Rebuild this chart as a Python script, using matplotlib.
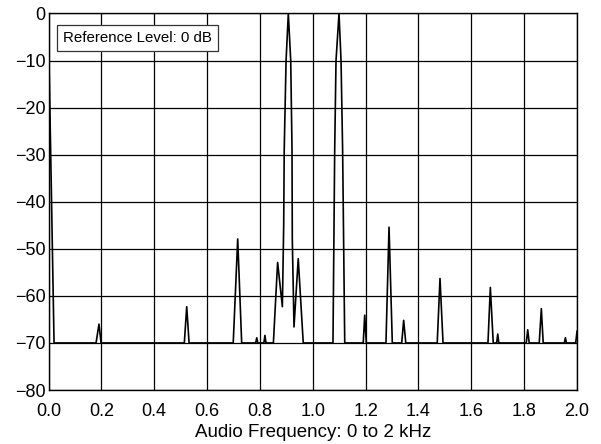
import matplotlib
matplotlib.use("Agg")
import matplotlib.pyplot as plt

plt.rcParams['font.family'] = ['Liberation Sans', 'DejaVu Sans']

# spectrum trace vertices, frequency in kHz and level in dB
freq_khz = [0.000, 0.010, 0.021,
            0.180, 0.191, 0.199,
            0.514, 0.523, 0.532,
            0.699, 0.716, 0.731,
            0.784, 0.788, 0.792, 0.815, 0.819, 0.823,
            0.851, 0.867, 0.885, 0.890, 0.892, 0.899, 0.9075, 0.9166, 0.9215, 0.9226,
            0.929, 0.945, 0.964,
            1.0765, 1.083, 1.088, 1.0993, 1.107, 1.113, 1.121,
            1.191, 1.1966, 1.2027,
            1.277, 1.2886, 1.301,
            1.3366, 1.344, 1.352,
            1.471, 1.4815, 1.493,
            1.663, 1.672, 1.683, 1.696, 1.700, 1.704,
            1.808, 1.8134, 1.819,
            1.857, 1.865, 1.872,
            1.952, 1.956, 1.960,
            1.995, 2.000]
level_db = [-4.0, -35.0, -70.0,
            -70.0, -66.0, -70.0,
            -70.0, -62.3, -70.0,
            -70.0, -47.9, -70.0,
            -70.0, -68.9, -70.0, -70.0, -68.4, -70.0,
            -70.0, -52.9, -62.3, -45.0, -29.0, -10.0, 0.0, -10.0, -29.0, -48.0,
            -66.6, -52.1, -70.0,
            -70.0, -29.0, -10.0, 0.0, -10.0, -29.0, -70.0,
            -70.0, -64.1, -70.0,
            -70.0, -45.4, -70.0,
            -70.0, -65.2, -70.0,
            -70.0, -56.3, -70.0,
            -70.0, -58.2, -70.0, -70.0, -68.1, -70.0,
            -70.0, -67.2, -70.0,
            -70.0, -62.7, -70.0,
            -70.0, -68.9, -70.0,
            -70.0, -67.5]

x_ticks = [0.0, 0.2, 0.4, 0.6, 0.8, 1.0, 1.2, 1.4, 1.6, 1.8, 2.0]
y_ticks = [0, -10, -20, -30, -40, -50, -60, -70, -80]

fig = plt.figure(figsize=(6.01, 4.44), dpi=100)
ax = fig.add_axes([0.0807, 0.1216, 0.8794, 0.8480])

ax.plot(freq_khz, level_db, color='black', lw=1.2, zorder=3)

ax.set_xlim(0, 2.0)
ax.set_ylim(-80, 0)
ax.set_xticks(x_ticks)
ax.set_xticklabels(['%.1f' % t for t in x_ticks])
ax.set_yticks(y_ticks)
ax.set_yticklabels([('\u2212%d' % -t) if t < 0 else '0' for t in y_ticks])
ax.tick_params(axis='both', length=0, labelsize=13)
ax.tick_params(axis='x', pad=9)
ax.tick_params(axis='y', pad=2)
ax.grid(True, color='black', lw=0.9)
for s in ax.spines.values():
    s.set_linewidth(1.0)

ax.set_xlabel('Audio Frequency: 0 to 2 kHz', fontsize=13.5, labelpad=3)

ax.text(0.027, 0.953, 'Reference Level: 0 dB', transform=ax.transAxes,
        ha='left', va='top', fontsize=10.8, zorder=5,
        bbox=dict(boxstyle='square,pad=0.4', fc='white', ec='#333333', lw=0.9))

fig.savefig('out.png', dpi=100)
